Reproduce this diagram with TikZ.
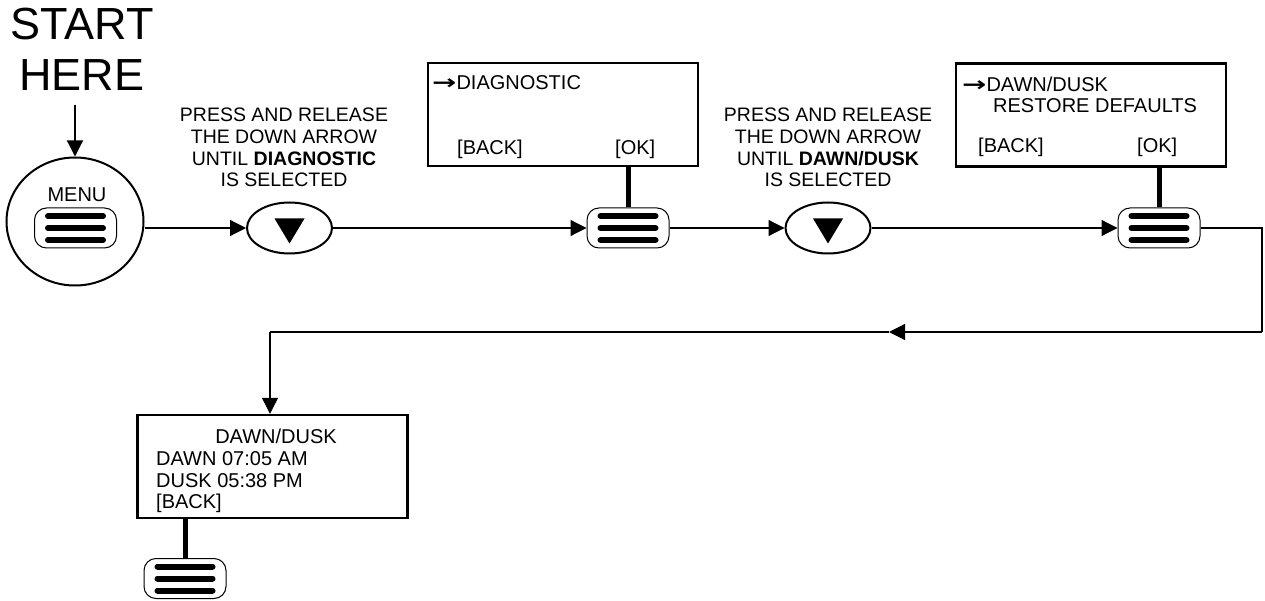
\documentclass[tikz,border=0pt]{standalone}
\usepackage{fontspec}
\usepackage{graphicx}
\setmainfont{Liberation Sans}
\newfontfamily\djv{DejaVu Sans}
\usetikzlibrary{arrows.meta,calc,shapes.geometric}
\tikzset{
  tipline/.style={line width=1.2pt, -{Triangle[length=16pt,width=16pt]}},
  plainline/.style={line width=1.2pt},
  screen/.style={draw, line width=2.4pt, minimum width=270pt, minimum height=103pt, inner sep=0pt},
  btn/.style={draw, line width=1pt, rounded corners=12pt, minimum width=82pt, minimum height=40pt, inner sep=0pt},
  bar/.style={line width=6pt, line cap=round},
  stem/.style={line width=5pt},
  dbtn/.style={draw, ellipse, line width=2pt, minimum width=85pt, minimum height=51pt, inner sep=0pt},
  txt/.style={font=\fontsize{20}{22}\selectfont, inner sep=0pt},
  presstxt/.style={font=\fontsize{19.5}{21.7}\selectfont, inner sep=0pt, align=center, anchor=north},
}
\newcommand{\arw}{{\djv\bfseries\scalebox{1.45}[1]{→}}}
\begin{document}
\begin{tikzpicture}[x=1pt,y=-1pt]
\useasboundingbox (0,0) rectangle (1265,601);

% start
\node[inner sep=0pt, align=center, anchor=north, font=\fontsize{45}{51}\selectfont] (start) at (82,8) {START\\HERE};
\coordinate (st) at (75,105);
\node[draw, ellipse, line width=2pt, minimum width=137pt, minimum height=128pt, inner sep=0pt] (menu) at (75,221.5) {};
\draw[tipline] (st) -- (menu.north);
\node[txt, anchor=base] (menut) at (77,202) {MENU};
\node[btn] (b1) at (75.5,228) {};

% row
\node[dbtn] (e1) at (289.5,228) {};
\node[btn] (b2) at (628,228) {};
\node[dbtn] (e2) at (828,228) {};
\node[btn] (b3) at (1159,228) {};

\draw[tipline] (menu.east |- e1.west) -- (e1.west);
\draw[tipline] (e1.east) -- (b2.west);
\draw[tipline] (b2.east) -- (e2.west);
\draw[tipline] (e2.east) -- (b3.west);

\fill ($(e1)+(-15,-9.5)$) -- ($(e1)+(15,-9.5)$) -- ($(e1)+(0,15.5)$) -- cycle;
\fill ($(e2)+(-15,-9.5)$) -- ($(e2)+(15,-9.5)$) -- ($(e2)+(0,15.5)$) -- cycle;

% press texts
\node[presstxt] (p1) at (284,108) {PRESS AND RELEASE\\THE DOWN ARROW\\UNTIL \textbf{DIAGNOSTIC}\\IS SELECTED};
\node[presstxt] (p2) at (828,108) {PRESS AND RELEASE\\THE DOWN ARROW\\UNTIL \textbf{DAWN/DUSK}\\IS SELECTED};

% screens
\node[screen] (s1) at (563,114.5) {};
\node[screen] (s2) at (1091,115) {};
\node[screen] (s3) at (272.5,466.5) {};

\node[txt, anchor=base west] (t1a) at (432,90) {\arw DIAGNOSTIC};
\node[txt, anchor=base west] (t1b) at (457,155) {[BACK]};
\node[txt, anchor=base west] (t1c) at (615,155) {[OK]};

\node[txt, anchor=base west] (t2a) at (962,92) {\arw DAWN/DUSK};
\node[txt, anchor=base west] (t2b) at (993,113) {RESTORE DEFAULTS};
\node[txt, anchor=base west] (t2c) at (978,153) {[BACK]};
\node[txt, anchor=base west] (t2d) at (1137,153) {[OK]};

\node[txt, anchor=base] (t3a) at (276,443) {DAWN/DUSK};
\node[txt, anchor=base west] (t3b) at (156,465) {DAWN 07:05 AM};
\node[txt, anchor=base west] (t3c) at (156,487) {DUSK 05:38 PM};
\node[txt, anchor=base west] (t3d) at (156,508) {[BACK]};

% stems
\node[btn] (b4) at (185,578.5) {};
\draw[stem] (b2.north) -- (b2.north |- s1.south);
\draw[stem] (b3.north) -- (b3.north |- s2.south);
\draw[stem] (b4.north) -- (b4.north |- s3.south);

% bars
\foreach \b in {b1,b2,b3,b4}
  \foreach \dy in {-12,0,12}
    \draw[bar] ($(\b)+(-27.5,\dy)$) -- ($(\b)+(27.5,\dy)$);

% return path
\coordinate (r1) at (1262,228);
\coordinate (r2) at (1262,332);
\coordinate (mid) at (889,332);
\coordinate (r3) at (270,332);
\draw[plainline] (b3.east) -- (r1) -- (r2);
\draw[tipline] (r2) -- (mid);
\draw[plainline] (mid) -- (r3);
\draw[tipline] (r3) -- (r3 |- s3.north);
\end{tikzpicture}
\end{document}
